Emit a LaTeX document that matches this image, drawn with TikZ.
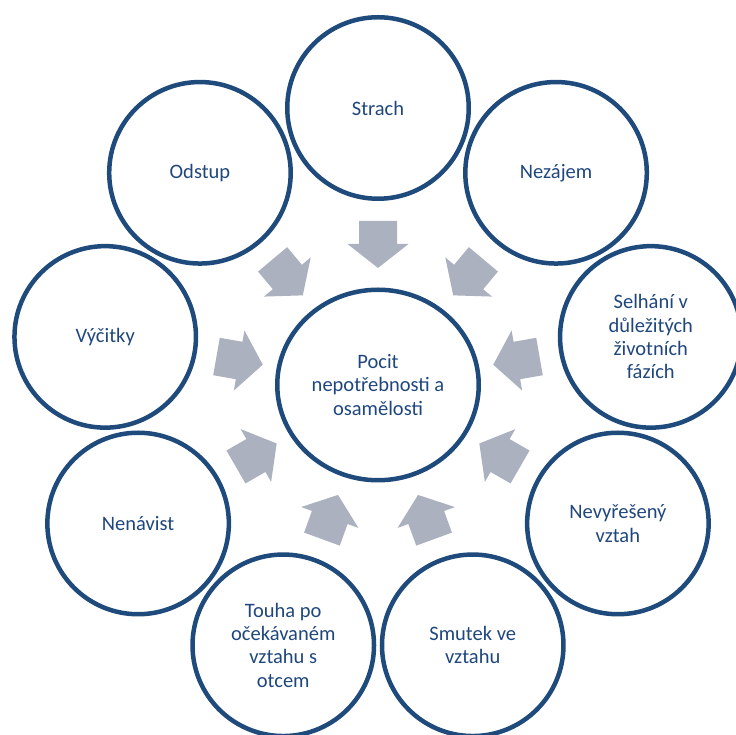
\documentclass[tikz,border=0pt]{standalone}
\usepackage{fontspec}
\setmainfont{Carlito}
\usetikzlibrary{shapes.geometric}
\definecolor{ringblue}{HTML}{1F4A7C}
\definecolor{txtblue}{HTML}{1F477D}
\definecolor{arrowgray}{HTML}{ACB1C0}
\begin{document}
\begin{tikzpicture}[x=1pt,y=1pt,
  labelfont/.style={font=\fontsize{20.5}{23.3}\selectfont, text=txtblue, align=center},
  ring/.style={circle, draw=ringblue, line width=4.5pt, minimum size=181.5pt, inner sep=0pt, labelfont},
  hub/.style={ellipse, draw=ringblue, line width=4.5pt, minimum width=201.5pt, minimum height=190.5pt, inner sep=0pt, labelfont},
  blockarrow/.style={fill=arrowgray}]
\useasboundingbox (0,0) rectangle (736,735);
\clip (0,0) rectangle (736,735);
\coordinate (C) at (378,350);
% block arrows pointing inward
\foreach \a in {90,50,10,-30,-70,-110,-150,170,130} {
  \fill[blockarrow, shift={(C)}, rotate=\a]
    (164,19) -- (141,19) -- (141,30.5) -- (117,0) -- (141,-30.5) -- (141,-19) -- (164,-19) -- cycle;
}
\node[hub] (hub) at (C) {Pocit\\nepotřebnosti a\\osamělosti};
\node[ring] (strach)   at ([shift={(90:277pt)}]C)   {Strach};
\node[ring] (nezajem)  at ([shift={(50:277pt)}]C)   {Nezájem};
\node[ring] (selhani)  at ([shift={(10:277pt)}]C)   {Selhání v\\důležitých\\životních\\fázích};
\node[ring] (nevyres)  at ([shift={(-30:277pt)}]C)  {Nevyřešený\\vztah};
\node[ring] (smutek)   at ([shift={(-70:277pt)}]C)  {Smutek ve\\vztahu};
\node[ring] (touha)    at ([shift={(-110:277pt)}]C) {Touha po\\očekávaném\\vztahu s\\otcem};
\node[ring] (nenavist) at ([shift={(-150:277pt)}]C) {Nenávist};
\node[ring] (vycitky)  at ([shift={(170:277pt)}]C)  {Výčitky};
\node[ring] (odstup)   at ([shift={(130:277pt)}]C)  {Odstup};
\end{tikzpicture}
\end{document}
